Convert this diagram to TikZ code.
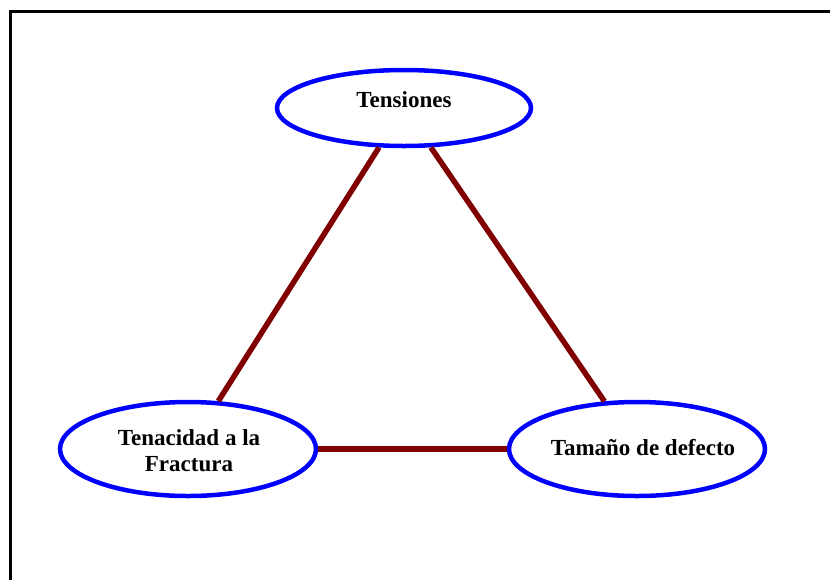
\documentclass[tikz,border=0pt]{standalone}
\usepackage{fontspec}
\setmainfont{Liberation Serif}
\usetikzlibrary{shapes.geometric}
\definecolor{ringblue}{RGB}{0,0,255}
\definecolor{linkred}{RGB}{128,0,0}
\tikzset{
  ring/.style={ellipse, draw=ringblue, line width=4.5pt, inner sep=0pt},
  label/.style={font=\fontsize{23}{26}\selectfont\bfseries, align=center, inner sep=0pt},
  link/.style={draw=linkred, line width=5.5pt},
}
\begin{document}
\begin{tikzpicture}[x=1pt,y=-1pt]
  \useasboundingbox (0,0) rectangle (830,579);
  % outer frame (runs off the right and bottom edges)
  \draw[line width=3pt] (10.5,582) -- (10.5,11.5) -- (833,11.5);

  % the three concepts
  \node[ring, minimum width=254pt, minimum height=76pt] (tens) at (404,108) {};
  \node[ring, minimum width=256pt, minimum height=94pt] (tenac) at (188,449) {};
  \node[ring, minimum width=256pt, minimum height=94pt] (tam) at (637,449) {};

  \node[label, anchor=base] (tensT) at (404,107) {Tensiones};
  \node[label, anchor=base] (tenacT) at (189,471) {Tenacidad a la\\Fractura};
  \node[label, anchor=base] (tamT) at (643,455) {Tamaño de defecto};

  % links between the concepts
  \draw[link] (tens) -- (tenac);
  \draw[link] (tens) -- (tam);
  \draw[link] (tenac) -- (tam);
\end{tikzpicture}
\end{document}
